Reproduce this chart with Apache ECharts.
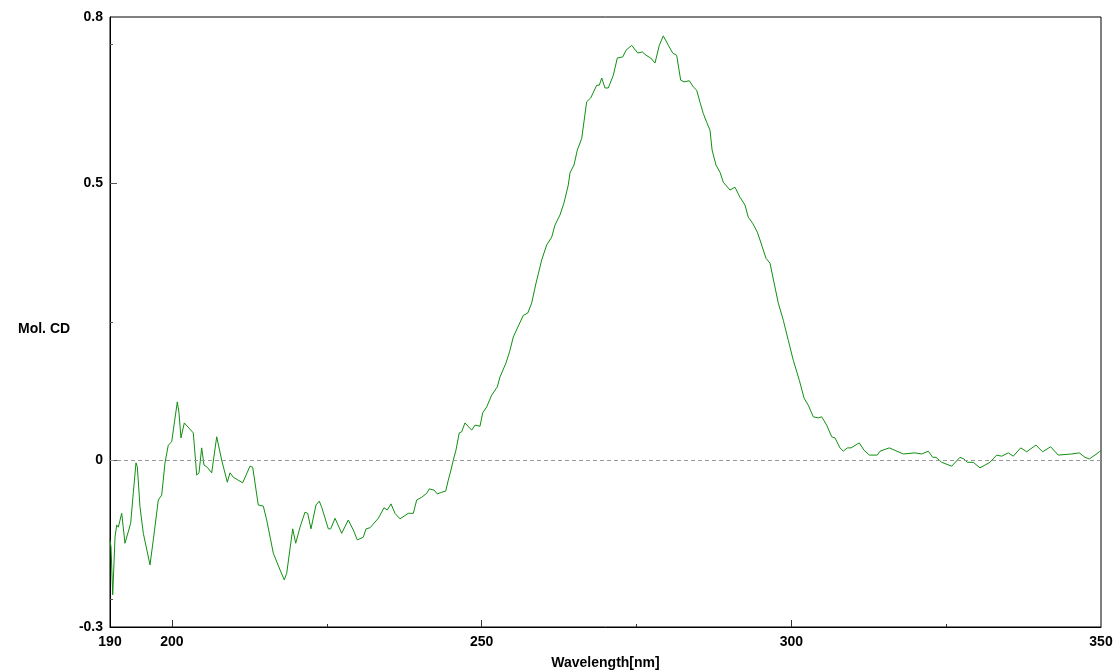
<!DOCTYPE html>
<html>
<head>
<meta charset="utf-8">
<script src="https://cdn.jsdelivr.net/npm/echarts@6/dist/echarts.min.js"></script>
<style>
  html, body { margin: 0; padding: 0; background: #fff; }
  #cdChart { width: 1120px; height: 672px; }
</style>
</head>
<body>
<div id="cdChart"></div>
<script>
var cdChart = echarts.init(document.getElementById('cdChart'));

// wavelength (nm) and molar CD
let wavelength = [
    190.0, 190.16, 190.44, 190.81, 191.08, 191.34, 191.89, 192.42, 193.34, 193.76,
    194.2, 194.41, 194.84, 195.38, 196.46, 196.99, 197.8, 198.35, 198.88, 199.41,
    199.96, 200.87, 201.14, 201.46, 202.0, 203.45, 204.0, 204.37, 204.8, 205.18,
    205.71, 206.42, 207.23, 208.03, 208.94, 209.37, 209.91, 211.42, 212.6, 213.04,
    213.94, 214.75, 215.3, 216.37, 217.45, 218.14, 218.53, 219.5, 219.98, 220.68,
    221.48, 221.92, 222.45, 223.26, 223.79, 224.18, 225.25, 225.63, 226.33, 227.41,
    228.47, 229.28, 229.93, 230.9, 231.33, 231.98, 233.32, 234.24, 234.77, 235.37,
    236.01, 236.82, 238.16, 238.97, 239.52, 240.32, 241.13, 241.55, 242.31, 242.84,
    243.55, 244.2, 244.62, 245.05, 245.43, 245.86, 246.39, 246.78, 247.31, 248.4,
    248.93, 249.74, 250.17, 250.82, 251.62, 252.53, 252.97, 253.93, 254.58, 255.11,
    256.73, 257.44, 258.08, 258.78, 259.7, 260.51, 261.31, 261.85, 262.65, 263.3,
    263.99, 264.27, 264.91, 265.45, 266.16, 266.96, 267.61, 268.58, 269.0, 269.39,
    269.92, 270.45, 271.26, 271.91, 272.78, 273.31, 274.23, 275.2, 275.94, 276.54,
    277.3, 277.99, 278.69, 279.33, 280.14, 280.85, 281.49, 282.14, 282.67, 283.53,
    284.17, 284.72, 285.26, 285.79, 286.34, 286.87, 287.21, 287.84, 288.49, 289.02,
    290.1, 290.91, 291.71, 292.52, 293.05, 293.76, 294.51, 294.94, 295.91, 296.56,
    297.36, 297.9, 298.71, 299.51, 300.32, 301.29, 302.05, 302.74, 303.55, 304.36,
    304.9, 305.71, 306.52, 307.05, 307.86, 308.39, 309.04, 309.65, 310.97, 311.73,
    312.59, 313.88, 314.32, 315.82, 318.08, 319.97, 321.05, 322.12, 322.83, 323.36,
    324.28, 325.89, 327.23, 327.88, 328.41, 329.38, 330.46, 332.07, 333.16, 333.96,
    335.03, 335.84, 337.03, 338.0, 339.5, 340.58, 341.87, 343.1, 345.27, 346.49,
    347.41, 348.11, 349.03, 349.73, 350.0
];
let molCD = [
    -0.143, -0.156, -0.242, -0.138, -0.116, -0.120, -0.095, -0.149, -0.113, -0.058,
    -0.004, -0.011, -0.083, -0.131, -0.188, -0.143, -0.071, -0.062, -0.004, 0.028,
    0.034, 0.106, 0.086, 0.041, 0.068, 0.050, -0.026, -0.022, 0.023, -0.008,
    -0.012, -0.022, 0.043, 0.001, -0.039, -0.022, -0.030, -0.040, -0.010, -0.012,
    -0.080, -0.082, -0.107, -0.167, -0.197, -0.215, -0.203, -0.123, -0.149, -0.120,
    -0.093, -0.095, -0.123, -0.080, -0.073, -0.084, -0.123, -0.123, -0.104, -0.131,
    -0.107, -0.125, -0.143, -0.138, -0.123, -0.121, -0.104, -0.085, -0.089, -0.078,
    -0.095, -0.105, -0.095, -0.095, -0.071, -0.066, -0.059, -0.051, -0.053, -0.060,
    -0.057, -0.055, -0.035, -0.017, 0.001, 0.019, 0.050, 0.052, 0.068, 0.055,
    0.064, 0.062, 0.086, 0.097, 0.118, 0.133, 0.151, 0.176, 0.199, 0.223,
    0.262, 0.266, 0.284, 0.320, 0.362, 0.389, 0.403, 0.425, 0.443, 0.465,
    0.497, 0.519, 0.533, 0.560, 0.581, 0.647, 0.654, 0.677, 0.677, 0.690,
    0.672, 0.672, 0.695, 0.726, 0.728, 0.740, 0.749, 0.735, 0.737, 0.731,
    0.726, 0.717, 0.749, 0.766, 0.749, 0.735, 0.731, 0.686, 0.683, 0.685,
    0.674, 0.668, 0.646, 0.626, 0.610, 0.596, 0.560, 0.533, 0.520, 0.502,
    0.488, 0.493, 0.475, 0.461, 0.439, 0.428, 0.412, 0.398, 0.365, 0.356,
    0.313, 0.284, 0.253, 0.217, 0.181, 0.145, 0.113, 0.100, 0.079, 0.077,
    0.079, 0.064, 0.043, 0.041, 0.023, 0.017, 0.023, 0.023, 0.032, 0.019,
    0.010, 0.010, 0.017, 0.023, 0.012, 0.014, 0.012, 0.017, 0.006, 0.006,
    -0.003, -0.010, 0.006, 0.003, -0.003, -0.003, -0.013, -0.003, 0.010, 0.008,
    0.014, 0.008, 0.023, 0.016, 0.028, 0.016, 0.025, 0.010, 0.012, 0.014,
    0.006, 0.003, 0.010, 0.016, 0.019
];

let xLabels = [190, 200, 250, 300, 350];
let xMajorTicks = [200, 250, 300];
let xMinorTicks = [225, 275, 325];
let yLabels = [-0.3, 0, 0.5, 0.8];
let yMajorTicks = [0, 0.5];
let yMinorTicks = [-0.25, 0.25, 0.75];

let font = 'Liberation Sans';
let lineData = wavelength.map((w, i) => [w, molCD[i]]);

let labelStyle = {
    fontFamily: font,
    fontSize: 14,
    fontWeight: 'bold',
    color: '#000'
};

option = {
    animation: false,
    backgroundColor: '#fff',
    grid: {
        left: 110,
        right: 19,
        top: 17,
        bottom: 45,
        outerBoundsMode: 'none',
        show: true,
        borderColor: '#000',
        borderWidth: 1,
        backgroundColor: 'transparent'
    },
    xAxis: [{
        type: 'value',
        min: 190,
        max: 350,
        position: 'bottom',
        name: 'Wavelength[nm]',
        nameLocation: 'middle',
        nameGap: 29,
        nameTextStyle: labelStyle,
        axisLine: { show: true, onZero: false, lineStyle: { color: '#000', width: 1 } },
        axisTick: {
            show: true,
            inside: true,
            length: 7,
            customValues: xMajorTicks,
            lineStyle: { color: '#333' }
        },
        axisLabel: Object.assign({ customValues: xLabels, margin: 8 }, labelStyle),
        splitLine: { show: false }
    }, {
        type: 'value',
        min: 190,
        max: 350,
        position: 'bottom',
        axisLine: { show: false, onZero: false },
        axisTick: {
            show: true,
            inside: true,
            length: 3,
            customValues: xMinorTicks,
            lineStyle: { color: '#333' }
        },
        axisLabel: { show: false },
        splitLine: { show: false }
    }],
    yAxis: [{
        type: 'value',
        min: -0.3,
        max: 0.8,
        position: 'left',
        axisLine: { show: true, onZero: false, lineStyle: { color: '#000', width: 1 } },
        axisTick: {
            show: true,
            inside: true,
            length: 7,
            customValues: yMajorTicks,
            lineStyle: { color: '#555' }
        },
        axisLabel: Object.assign({
            customValues: yLabels,
            margin: 7,
            formatter: v => (v === 0 ? '0' : String(v))
        }, labelStyle),
        splitLine: { show: false }
    }, {
        type: 'value',
        min: -0.3,
        max: 0.8,
        position: 'left',
        axisLine: { show: false, onZero: false },
        axisTick: {
            show: true,
            inside: true,
            length: 3,
            customValues: yMinorTicks,
            lineStyle: { color: '#555' }
        },
        axisLabel: { show: false },
        splitLine: { show: false }
    }],
    graphic: [{
        type: 'text',
        left: 18,
        top: 322,
        style: {
            text: 'Mol. CD',
            font: 'bold 14px ' + font,
            fill: '#000'
        }
    }],
    series: [{
        type: 'line',
        xAxisIndex: 0,
        yAxisIndex: 0,
        data: lineData,
        showSymbol: false,
        symbol: 'none',
        lineStyle: { color: '#109010', width: 1 },
        markLine: {
            silent: true,
            symbol: 'none',
            label: { show: false },
            lineStyle: { color: '#999', type: [4, 3], width: 1 },
            data: [{ yAxis: 0 }]
        }
    }]
};
cdChart.setOption(option);
</script>
</body>
</html>
